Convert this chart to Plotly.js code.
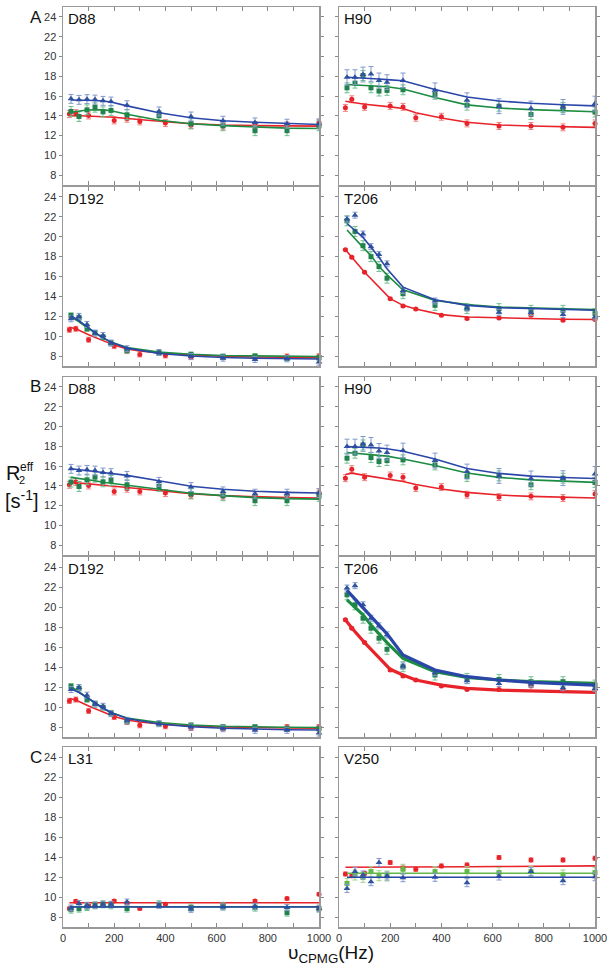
<!DOCTYPE html>
<html>
<head>
<meta charset="utf-8">
<script src="https://cdn.plot.ly/plotly-3.0.1.min.js"></script>
<style>html,body{margin:0;padding:0;background:#fff;}#chart{width:612px;height:968px;}</style>
</head>
<body>
<div id="chart"></div>
<script>
// ---------- data ----------
const xRed = [25, 50, 100, 200, 250, 300, 400, 500, 625, 750, 875, 1000];
const xGB  = [31.25, 62.5, 93.75, 125, 156.25, 187.5, 250, 375, 500, 625, 750, 875, 1000];

const panelNames = ["D88", "H90", "D192", "T206", "D88", "H90", "D192", "T206", "L31", "V250"];
const groupLabels = ["A", "B", "C"];

// A: D88
const A_D88_r    = [14.17, 14.27, 14.03, 13.53, 13.7, 13.43, 13.26, 13.03, 12.93, 13.03, 13.03, 13.33];
const A_D88_rFit = [14.05, 14.03, 13.98, 13.85, 13.72, 13.6, 13.4, 13.2, 13.06, 13.0, 12.97, 12.95];
const A_D88_g    = [14.44, 13.93, 14.6, 14.87, 14.4, 14.54, 14.1, 14.0, 13.2, 12.99, 12.49, 12.49, 12.99];
const A_D88_gFit = [14.35, 14.5, 14.58, 14.6, 14.6, 14.5, 14.15, 13.55, 13.2, 13.0, 12.85, 12.75, 12.72];
const A_D88_b    = [15.71, 15.61, 15.68, 15.64, 15.51, 15.44, 15.07, 14.44, 13.93, 13.5, 13.33, 13.2, 13.2];
const A_D88_bFit = [15.6, 15.6, 15.6, 15.55, 15.5, 15.4, 15.0, 14.3, 13.8, 13.5, 13.35, 13.2, 13.12];
const A_D88_err  = [0.35, 0.5, 0.45];

// A: H90
const A_H90_r    = [14.8, 15.67, 14.9, 15.0, 14.9, 13.8, 13.9, 13.23, 12.97, 12.97, 12.83, 13.23];
const A_H90_rFit = [15.47, 15.35, 15.17, 14.9, 14.73, 14.3, 13.78, 13.35, 13.07, 12.97, 12.87, 12.83];
const A_H90_g    = [16.83, 17.3, 18.07, 16.83, 16.5, 16.57, 16.63, 16.17, 15.07, 14.97, 14.13, 14.83, 14.37];
const A_H90_gFit = [17.17, 17.13, 17.08, 17.03, 16.98, 16.93, 16.7, 15.85, 15.1, 14.78, 14.62, 14.5, 14.4];
const A_H90_b    = [17.9, 17.9, 18.17, 18.23, 17.57, 17.4, 17.57, 16.57, 15.57, 14.97, 14.73, 14.9, 15.23];
const A_H90_bFit = [17.9, 17.87, 17.83, 17.78, 17.72, 17.66, 17.55, 16.65, 15.9, 15.5, 15.27, 15.12, 15.0];
const A_H90_err  = [0.35, 0.5, 0.75];

// A: D192
const A_D192_r    = [10.64, 10.74, 9.64, 9.0, 8.5, 8.16, 8.06, 7.89, 7.9, 7.9, 7.96, 7.99];
const A_D192_rFit = [10.9, 10.75, 10.15, 9.1, 8.7, 8.5, 8.25, 8.1, 7.98, 7.9, 7.86, 7.83];
const A_D192_g    = [12.09, 11.85, 10.74, 10.34, 9.9, 9.33, 8.56, 8.33, 8.16, 7.96, 7.99, 7.79, 7.83];
const A_D192_gFit = [11.95, 11.45, 10.85, 10.3, 9.8, 9.4, 8.85, 8.4, 8.18, 8.05, 8.0, 7.96, 7.95];
const A_D192_b    = [11.75, 11.99, 11.18, 10.3, 10.07, 9.3, 8.73, 8.36, 7.96, 7.79, 7.66, 7.72, 7.39];
const A_D192_bFit = [12.05, 11.55, 10.95, 10.35, 9.85, 9.4, 8.8, 8.25, 8.0, 7.85, 7.78, 7.73, 7.7];
const A_D192_err  = [0.25, 0.25, 0.3];

// A: T206
const A_T206_r    = [18.7, 17.93, 16.43, 13.77, 13.03, 12.73, 12.1, 11.77, 11.83, 12.1, 11.6, 11.67];
const A_T206_rFit = [18.7, 17.93, 16.43, 13.77, 13.1, 12.73, 12.17, 11.93, 11.83, 11.77, 11.7, 11.67];
const A_T206_g    = [21.6, 20.53, 19.1, 18.0, 17.0, 15.83, 14.27, 13.1, 12.77, 12.77, 12.6, 12.6, 12.27];
const A_T206_gFit = [20.67, 19.77, 18.93, 18.1, 17.0, 16.17, 14.67, 13.6, 13.17, 12.93, 12.83, 12.73, 12.67];
const A_T206_b    = [21.77, 22.17, 20.27, 19.0, 18.2, 17.27, 14.6, 13.53, 12.83, 12.4, 12.37, 12.17, 11.93];
const A_T206_bFit = [21.33, 20.6, 19.93, 18.93, 17.93, 16.77, 14.93, 13.67, 13.1, 12.87, 12.77, 12.67, 12.6];
const A_T206_err  = [0.1, 0.5, 0.3];

// B: D88
const B_D88_r    = [14.1, 14.37, 14.03, 13.43, 13.7, 13.43, 13.26, 13.03, 12.93, 13.03, 13.03, 13.33];
const B_D88_rFit = [14.37, 14.3, 14.2, 13.95, 13.83, 13.7, 13.45, 13.2, 13.0, 12.88, 12.8, 12.76];
const B_D88_g    = [14.37, 13.93, 14.6, 14.87, 14.4, 14.54, 14.1, 13.93, 13.2, 12.99, 12.49, 12.49, 12.93];
const B_D88_gFit = [14.85, 14.75, 14.6, 14.5, 14.35, 14.25, 14.05, 13.6, 13.25, 13.0, 12.8, 12.7, 12.65];
const B_D88_b    = [15.71, 15.54, 15.61, 15.54, 15.34, 15.28, 15.0, 14.4, 13.87, 13.43, 13.2, 13.2, 13.26];
const B_D88_bFit = [15.72, 15.65, 15.55, 15.45, 15.35, 15.25, 15.05, 14.5, 13.95, 13.65, 13.45, 13.33, 13.27];
const B_D88_err  = [0.35, 0.5, 0.45];

// B: H90
const B_H90_r    = [14.77, 15.68, 14.87, 15.04, 14.87, 13.77, 13.87, 13.1, 12.86, 12.93, 12.76, 13.16];
const B_H90_rFit = [15.15, 15.28, 15.05, 14.6, 14.44, 14.12, 13.68, 13.33, 13.06, 12.93, 12.83, 12.76];
const B_H90_g    = [16.79, 17.29, 18.13, 16.85, 16.45, 16.55, 16.62, 16.11, 14.94, 15.0, 14.1, 14.77, 14.34];
const B_H90_gFit = [17.36, 17.3, 17.22, 17.15, 17.08, 17.0, 16.7, 16.05, 15.3, 14.85, 14.6, 14.45, 14.34];
const B_H90_b    = [17.96, 17.96, 18.23, 18.13, 17.52, 17.36, 17.56, 16.55, 15.44, 15.0, 14.74, 14.77, 15.2];
const B_H90_bFit = [17.96, 17.94, 17.9, 17.86, 17.82, 17.75, 17.5, 16.7, 15.75, 15.25, 14.98, 14.83, 14.74];
const B_H90_err  = [0.35, 0.5, 0.75];

// B: D192
const B_D192_r    = [10.61, 10.74, 9.61, 9.0, 8.5, 8.17, 8.07, 7.9, 7.9, 7.9, 8.0, 8.0];
const B_D192_rFit = [10.85, 10.7, 10.1, 9.05, 8.7, 8.5, 8.25, 8.1, 8.0, 7.93, 7.9, 7.88];
const B_D192_g    = [12.08, 11.85, 10.74, 10.34, 9.94, 9.41, 8.57, 8.33, 8.17, 8.0, 8.0, 7.83, 7.83];
const B_D192_gFit = [12.05, 11.5, 10.9, 10.35, 9.85, 9.45, 8.9, 8.45, 8.2, 8.07, 8.0, 7.97, 7.95];
const B_D192_b    = [11.75, 11.95, 11.18, 10.28, 10.07, 9.34, 8.67, 8.33, 8.0, 7.83, 7.67, 7.67, 7.4];
const B_D192_bFit = [11.8, 11.45, 10.95, 10.4, 9.9, 9.45, 8.85, 8.3, 8.02, 7.87, 7.78, 7.73, 7.7];
const B_D192_err  = [0.25, 0.25, 0.3];

// B: T206
const B_T206_r    = [18.72, 17.88, 16.44, 13.7, 13.1, 12.7, 12.09, 11.76, 11.76, 12.09, 11.63, 11.69];
const B_T206_rFit = [18.72, 17.9, 16.44, 13.77, 13.2, 12.7, 12.19, 11.86, 11.69, 11.59, 11.53, 11.46];
const B_T206_g    = [21.22, 20.22, 18.88, 17.88, 16.88, 15.77, 14.03, 13.2, 12.86, 12.76, 12.53, 12.53, 12.19];
const B_T206_gFit = [20.72, 19.95, 19.22, 18.2, 17.31, 16.44, 14.87, 13.53, 12.96, 12.7, 12.53, 12.43, 12.36];
const B_T206_b    = [21.9, 22.13, 20.22, 18.88, 18.11, 17.21, 14.1, 13.43, 12.63, 12.36, 12.29, 11.93, 11.86];
const B_T206_bFit = [21.66, 20.8, 19.99, 19.1, 18.21, 17.31, 15.2, 13.7, 13.03, 12.7, 12.46, 12.29, 12.19];
const B_T206_err  = [0.1, 0.5, 0.3];

// C: L31
const C_L31_r    = [8.84, 9.57, 9.1, 9.6, 9.4, 8.84, 9.27, 9.0, 9.27, 9.6, 9.84, 10.28];
const C_L31_rFit = [9.43, 9.43, 9.43, 9.43, 9.43, 9.43, 9.43, 9.43, 9.43, 9.43, 9.43, 9.43];
const C_L31_g    = [8.74, 8.84, 9.0, 9.17, 9.27, 9.17, 8.84, 9.27, 8.94, 9.07, 8.94, 8.44, 8.84];
const C_L31_gFit = [9.03, 9.03, 9.03, 9.03, 9.03, 9.03, 9.03, 9.03, 9.03, 9.03, 9.03, 9.03, 9.03];
const C_L31_b    = [8.9, 9.34, 9.17, 9.17, 9.27, 9.27, 9.5, 9.17, 8.77, 9.0, 9.07, 8.94, 8.84];
const C_L31_bFit = [9.0, 9.0, 9.0, 9.0, 9.0, 9.0, 9.0, 9.0, 9.0, 9.0, 9.0, 9.0, 9.0];
const C_L31_err  = [0.15, 0.35, 0.3];

// C: V250
const C_V250_r    = [12.3, 12.13, 12.37, 13.45, 12.9, 12.77, 13.11, 13.21, 13.95, 13.71, 13.71, 13.88];
const C_V250_rFit = [12.97, 12.97, 12.98, 12.99, 13.0, 13.0, 13.02, 13.03, 13.05, 13.07, 13.09, 13.11];
const C_V250_g    = [11.36, 12.2, 11.97, 12.54, 12.13, 12.1, 12.77, 12.54, 12.54, 12.44, 12.54, 12.2, 12.44];
const C_V250_gFit = [12.37, 12.37, 12.37, 12.37, 12.37, 12.37, 12.37, 12.37, 12.37, 12.37, 12.37, 12.37, 12.37];
const C_V250_b    = [10.86, 12.54, 12.2, 11.53, 13.45, 12.1, 11.93, 11.97, 11.43, 12.1, 12.54, 11.63, 12.03];
const C_V250_bFit = [11.97, 11.97, 11.97, 11.97, 11.97, 11.97, 11.97, 11.97, 11.97, 11.97, 11.97, 11.97, 11.97];
const C_V250_err  = [0.2, 0.5, 0.4];

// ---------- build ----------
const panels = [
  [A_D88_r, A_D88_rFit, A_D88_g, A_D88_gFit, A_D88_b, A_D88_bFit, A_D88_err],
  [A_H90_r, A_H90_rFit, A_H90_g, A_H90_gFit, A_H90_b, A_H90_bFit, A_H90_err],
  [A_D192_r, A_D192_rFit, A_D192_g, A_D192_gFit, A_D192_b, A_D192_bFit, A_D192_err],
  [A_T206_r, A_T206_rFit, A_T206_g, A_T206_gFit, A_T206_b, A_T206_bFit, A_T206_err],
  [B_D88_r, B_D88_rFit, B_D88_g, B_D88_gFit, B_D88_b, B_D88_bFit, B_D88_err],
  [B_H90_r, B_H90_rFit, B_H90_g, B_H90_gFit, B_H90_b, B_H90_bFit, B_H90_err],
  [B_D192_r, B_D192_rFit, B_D192_g, B_D192_gFit, B_D192_b, B_D192_bFit, B_D192_err],
  [B_T206_r, B_T206_rFit, B_T206_g, B_T206_gFit, B_T206_b, B_T206_bFit, B_T206_err],
  [C_L31_r, C_L31_rFit, C_L31_g, C_L31_gFit, C_L31_b, C_L31_bFit, C_L31_err],
  [C_V250_r, C_V250_rFit, C_V250_g, C_V250_gFit, C_V250_b, C_V250_bFit, C_V250_err]
];

const W = 612, H = 968;
const px = v => v / W;
const py = v => 1 - v / H;
const colDom = [[px(63), px(319)], [px(339), px(595)]];
const rowPix = [[7, 185], [187, 366], [377, 555], [557, 737], [747, 927]];

const RED = '#e8232a', RED_E = '#f08080';
const GRN = '#1b8c42', GRN_M = '#23814f', GRN_E = '#6fbf8f';
const GRN_L = '#62b846', GRN_LE = '#9fd38a';
const BLU = '#2a46a8', BLU_M = '#32549e', BLU_E = '#8298cc';
const FONT = 'Arial, "Liberation Sans", sans-serif';

const traces = [];
const layout = {
  width: W, height: H,
  margin: {l: 0, r: 0, t: 0, b: 0},
  paper_bgcolor: '#fff', plot_bgcolor: '#fff',
  showlegend: false,
  font: {family: FONT, color: '#222'},
  annotations: []
};

panels.forEach((p, i) => {
  const n = i + 1;
  const row = Math.floor(i / 2), col = i % 2;
  const xa = 'x' + (n === 1 ? '' : n), ya = 'y' + (n === 1 ? '' : n);
  const thick = (i === 7) ? 3.2 : 1.6;
  const light = (i === 9);
  const [r, rFit, g, gFit, b, bFit, err] = p;
  const gLine = light ? GRN_L : GRN, gMark = light ? GRN_L : GRN_M, gErr = light ? GRN_LE : GRN_E;

  const series = [
    {x: xRed, y: r, fit: rFit, lc: RED, mc: RED, ec: RED_E, sym: 'circle', size: 5, e: err[0]},
    {x: xGB, y: g, fit: gFit, lc: gLine, mc: gMark, ec: gErr, sym: 'square', size: 5, e: err[1]},
    {x: xGB, y: b, fit: bFit, lc: BLU, mc: BLU_M, ec: BLU_E, sym: 'triangle-up', size: 6, e: err[2]}
  ];
  series.forEach(s => {
    traces.push({
      type: 'scatter', mode: 'markers', x: s.x, y: s.y, xaxis: xa, yaxis: ya,
      marker: {symbol: s.sym, size: s.size, color: s.mc},
      error_y: {type: 'constant', value: s.e, color: s.ec, thickness: 1, width: 2.5},
      hoverinfo: 'skip', cliponaxis: false
    });
    traces.push({
      type: 'scatter', mode: 'lines', x: s.x, y: s.fit, xaxis: xa, yaxis: ya,
      line: {color: s.lc, width: thick}, hoverinfo: 'skip'
    });
  });

  const yd = [py(rowPix[row][1]), py(rowPix[row][0])];
  layout['xaxis' + (n === 1 ? '' : n)] = {
    domain: colDom[col], anchor: ya, range: [0, 1000],
    tick0: 0, dtick: 200,
    minor: {dtick: 100, ticks: 'inside', ticklen: 4, tickwidth: 1, tickcolor: '#888', showgrid: false},
    showticklabels: row === 4,
    ticks: 'inside', ticklen: 4, tickwidth: 1, tickcolor: '#888',
    showline: true, linecolor: '#999', linewidth: 1.5, mirror: 'ticks',
    showgrid: false, zeroline: false,
    tickfont: {size: 11, color: '#333', family: FONT}
  };
  layout['yaxis' + (n === 1 ? '' : n)] = {
    domain: yd, anchor: xa, range: [7, 25], tick0: 0, dtick: 2,
    showticklabels: col === 0,
    ticks: 'outside', ticklen: 3, tickwidth: 1, tickcolor: '#888',
    showline: true, linecolor: '#999', linewidth: 1.5, mirror: 'ticks',
    showgrid: false, zeroline: false,
    tickfont: {size: 11, color: '#333', family: FONT}
  };
  layout.annotations.push({
    xref: xa + ' domain', yref: ya + ' domain', x: 0.012, y: 0.995,
    xanchor: 'left', yanchor: 'top', showarrow: false,
    text: panelNames[i], font: {size: 15, color: '#111'}
  });
});

// group letters
[[0, 6], [1, 375], [2, 746]].forEach(([k, y]) => {
  layout.annotations.push({
    xref: 'paper', yref: 'paper', x: px(28), y: py(y), xanchor: 'left', yanchor: 'top',
    showarrow: false, text: groupLabels[k], font: {size: 17, color: '#111'}
  });
});

// y axis title (stacked sub/superscript)
layout.annotations.push(
  {xref: 'paper', yref: 'paper', x: px(4), y: py(473), xanchor: 'left', yanchor: 'middle', showarrow: false,
   text: 'R', font: {size: 20, color: '#111'}},
  {xref: 'paper', yref: 'paper', x: px(17.5), y: py(467), xanchor: 'left', yanchor: 'middle', showarrow: false,
   text: 'eff', font: {size: 12, color: '#111'}},
  {xref: 'paper', yref: 'paper', x: px(16.5), y: py(480), xanchor: 'left', yanchor: 'middle', showarrow: false,
   text: '2', font: {size: 11, color: '#111'}},
  {xref: 'paper', yref: 'paper', x: px(3), y: py(500), xanchor: 'left', yanchor: 'middle', showarrow: false,
   text: '[s<sup>-1</sup>]', font: {size: 20, color: '#111'}}
);

// x axis title
layout.annotations.push({
  xref: 'paper', yref: 'paper', x: px(331), y: py(954), xanchor: 'center', yanchor: 'middle', showarrow: false,
  text: 'υ<sub>CPMG</sub>(Hz)', font: {size: 19, color: '#111'}
});

Plotly.newPlot('chart', traces, layout, {staticPlot: true, displayModeBar: false});
</script>
</body>
</html>
